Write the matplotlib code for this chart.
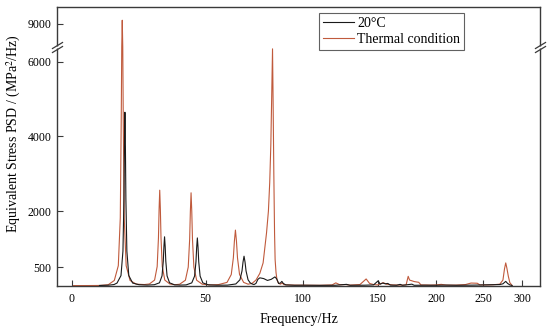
import numpy as np
import matplotlib
matplotlib.use("Agg")
import matplotlib.pyplot as plt
from matplotlib.transforms import blended_transform_factory

# ---------------- data ----------------
freq_20c = [9.0, 12, 14, 15.05, 16.45, 17.15, 17.5, 17.67, 17.85, 18.03, 18.2, 18.55, 19.25, 20.65,
            23, 26, 28.8, 30.8, 31.8, 32.3, 32.55, 32.8, 33.05, 33.3, 33.8, 34.8, 36.8, 39,
            41.6, 44.0, 45.2, 45.8, 46.1, 46.4, 46.7, 47.0, 47.6, 48.8, 51.2, 55, 60,
            64, 66, 67, 67.5, 68, 68.5, 69, 70, 71, 72, 73, 74, 75, 76, 78, 80, 82, 84, 85, 86,
            87, 87.8, 88.6, 90, 95, 100, 110, 120, 127.6, 130, 140, 147, 150.5, 152, 154, 156,
            158, 160, 165, 168, 170, 178, 180, 190, 200, 210, 220, 230, 240, 250, 260, 270,
            274, 277.6, 280, 283, 286]
psd_20c = [5, 12, 30, 70, 270, 930, 2325, 3720, 4650, 3720, 2325, 930, 270, 70,
           25, 15, 25, 77, 262, 655, 1048, 1310, 1048, 655, 262, 77, 22, 15,
           20, 75, 256, 640, 1024, 1280, 1024, 640, 256, 75, 22, 12, 14,
           46, 158, 395, 632, 790, 632, 395, 158, 80, 46, 30, 60, 170, 210, 190, 140, 170, 235, 180, 60,
           70, 115, 60, 20, 10, 12, 8, 10, 35, 10, 12, 20, 130, 40, 70, 50,
           60, 15, 10, 35, 10, 40, 10, 12, 10, 15, 10, 12, 15, 20, 25, 30,
           50, 115, 60, 20, 5]

freq_thermal = [0.5, 5, 9, 12, 14.1, 15.5, 16.2, 16.55, 16.72, 16.9, 17.08, 17.25, 17.6, 18.3, 19.7,
                22, 25, 26.9, 28.9, 29.9, 30.4, 30.65, 30.9, 31.15, 31.4, 31.9, 32.9, 34.9, 37,
                38.9, 41.3, 42.5, 43.1, 43.4, 43.7, 44.0, 44.3, 44.9, 46.1, 48.5, 52,
                55.8, 59.8, 61.8, 62.8, 63.3, 63.8, 64.3, 64.8, 65.8, 67.8, 70,
                72, 74, 76, 77.7, 79.5, 80.5, 81.2, 81.8, 82.3, 82.7, 83.0, 83.4, 83.8, 84.1, 84.6,
                85.1, 86, 87, 88, 89, 95, 100, 110, 118, 120.4, 123, 127, 130, 137, 141.5, 144,
                147, 150, 154.5, 157, 162, 170, 173, 174.8, 176, 180, 184, 186, 195, 200, 205,
                210, 220, 230, 236, 243, 246, 255, 262, 270, 274, 276, 277.6, 279, 281, 283, 286]
psd_thermal = [2, 3, 5, 25, 140, 535, 1820, 4550, 7280, 9100, 7280, 4550, 1820, 535, 140,
               40, 30, 45, 150, 512, 1280, 2048, 2560, 2048, 1280, 512, 150, 45, 25,
               38, 146, 498, 1245, 1992, 2490, 1992, 1245, 498, 146, 40, 20,
               28, 88, 298, 745, 1192, 1490, 1192, 745, 298, 88, 40,
               60, 150, 330, 610, 1415, 2000, 2770, 3800, 5200, 6350, 5000, 3000, 1400, 700, 350,
               160, 60, 40, 70, 25, 15, 12, 10, 20, 75, 25, 30, 15, 30, 180, 60,
               30, 20, 80, 40, 20, 15, 20, 250, 150, 110, 90, 20, 15, 20, 35,
               15, 15, 30, 70, 65, 20, 20, 25, 40, 150, 450, 610, 480, 250, 80, 5]

x_ticks = [0, 50, 100, 150, 200, 250, 300]
y_ticks = [500, 2000, 4000, 6000, 9000]
series_labels = ["20\u00b0C", "Thermal condition"]

# ---------------- styling ----------------
plt.rcParams['font.family'] = ['Liberation Serif', 'DejaVu Serif']
plt.rcParams['mathtext.fontset'] = 'stix'

C_BLACK = '#1a1a1a'
C_THERM = '#c05a3c'
SPINE = '#3a3a3a'

# reciprocal-type x scale (as in the original axis)
XC = 270.0
def xf(f):
    f = np.asarray(f, dtype=float)
    return f / (f + XC)
def xi(u):
    u = np.clip(np.asarray(u, dtype=float), -0.5, 0.99)
    return XC * u / (1 - u)

# broken y scale: 6400 .. 8385 is compressed away
Y_LO, Y_HI = 6400.0, 8385.0
yd = np.array([-1e5, Y_LO, Y_HI, 1e5])
ys = np.array([-1e5, Y_LO, Y_LO + 2.0, Y_LO + 2.0 + (1e5 - Y_HI)])
def yf(y):
    return np.interp(np.asarray(y, dtype=float), yd, ys)
def yi(s):
    return np.interp(np.asarray(s, dtype=float), ys, yd)

fig = plt.figure(figsize=(5.5, 3.32), dpi=100)
ax = fig.add_axes([57/550, 1 - 286/332, (540-57)/550, (286-7)/332])
ax.set_xscale('function', functions=(xf, xi))
ax.set_yscale('function', functions=(yf, yi))

l2, = ax.plot(freq_thermal, psd_thermal, color=C_THERM, lw=0.8, label=series_labels[1])
l1, = ax.plot(freq_20c, psd_20c, color=C_BLACK, lw=0.8, label=series_labels[0])

ax.set_xlim(-4.6, 326)
ax.set_ylim(-9, 9455)
ax.set_xticks(x_ticks)
ax.set_xticklabels([str(t) for t in x_ticks])
ax.set_yticks(y_ticks)
ax.set_yticklabels([str(t) for t in y_ticks])
ax.minorticks_off()

ax.tick_params(axis='both', direction='in', length=4, width=0.8, color=SPINE,
               labelsize=8.5, pad=4)
ax.tick_params(axis='x', pad=5)
for s in ax.spines.values():
    s.set_color(SPINE)
    s.set_linewidth(1.0)

ax.set_xlabel('Frequency/Hz', fontsize=10, labelpad=6)
ax.set_ylabel('Equivalent Stress PSD / (MPa$^2$/Hz)', fontsize=10)
ax.yaxis.set_label_coords(-0.071, 0.545)

leg = ax.legend(handles=[l1, l2], loc='upper left', bbox_to_anchor=(0.542, 0.978),
                borderaxespad=0, fontsize=10, frameon=True, fancybox=False,
                handlelength=2.2, handletextpad=0.25, borderpad=0.3, labelspacing=0.2)
leg.get_frame().set_edgecolor(SPINE)
leg.get_frame().set_linewidth(0.8)

# axis-break marks on both vertical spines
for xa in (0.0, 1.0):
    tr = blended_transform_factory(ax.transAxes, ax.transData)
    ax.plot([xa, xa], [Y_LO - 25, Y_HI + 25], transform=tr, color='white', lw=2.5,
            clip_on=False, zorder=5, solid_capstyle='butt')
    for dy in (-45, 45):
        ax.plot([xa], [Y_LO + dy if dy < 0 else Y_HI + dy], transform=tr,
                marker=[(-1, -0.6), (1, 0.6)], markersize=8, color=SPINE,
                mew=0.9, linestyle='none', clip_on=False, zorder=6)

fig.savefig('out.png', dpi=100)
